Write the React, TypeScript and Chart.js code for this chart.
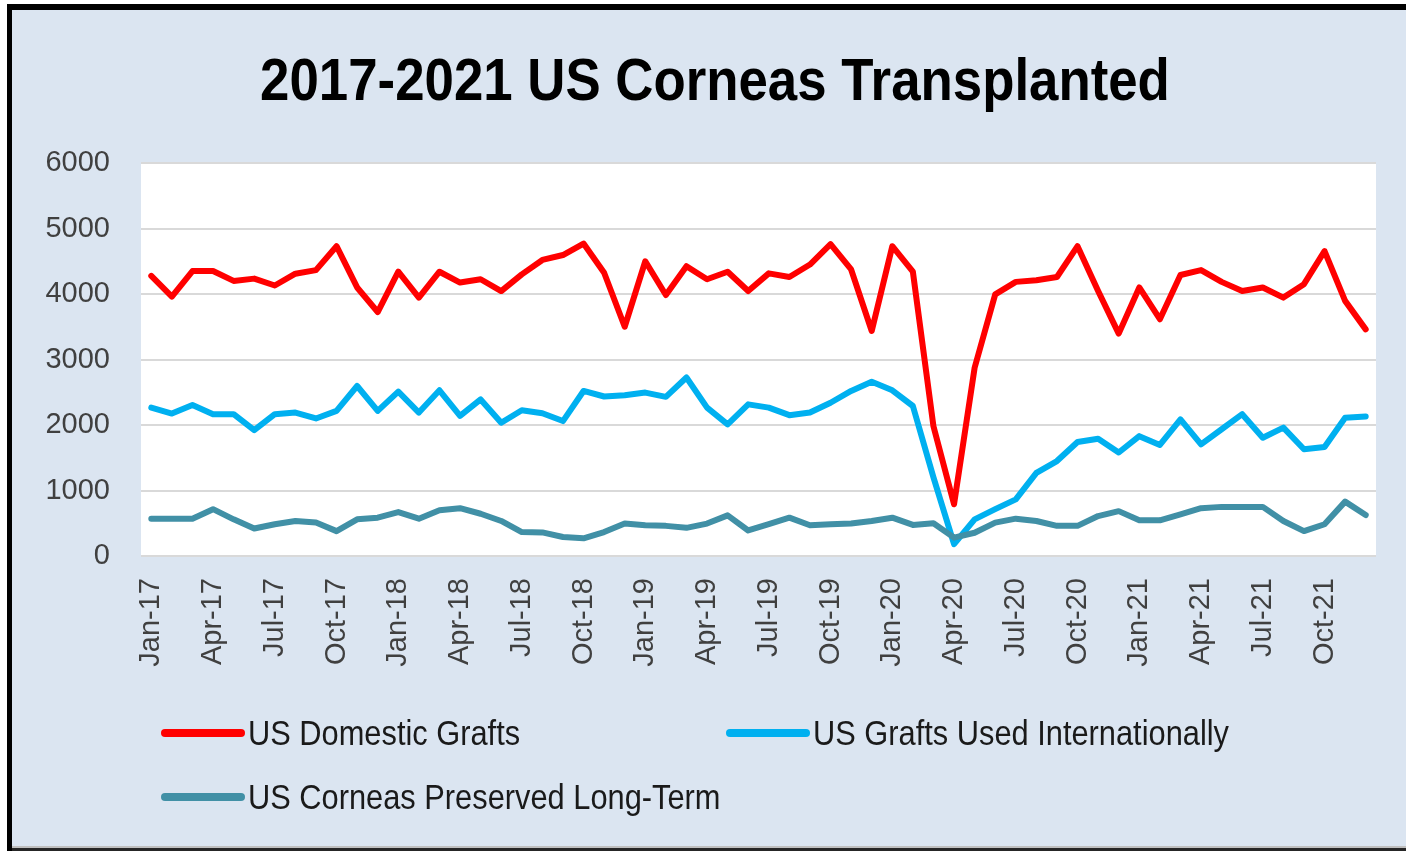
import React, { useEffect, useRef } from "react";
import { Chart, registerables } from "chart.js";

Chart.register(...registerables);

const months = ["Jan", "Feb", "Mar", "Apr", "May", "Jun", "Jul", "Aug", "Sep", "Oct", "Nov", "Dec"];
const years = ["17", "18", "19", "20", "21"];
const categories = years.flatMap((y) => months.map((m) => `${m}-${y}`));

const domesticGrafts = [
  4275, 3960, 4350, 4350, 4200, 4235, 4130, 4310, 4365, 4730, 4100, 3725,
  4340, 3945, 4340, 4175, 4225, 4045, 4300, 4520, 4595, 4770, 4325, 3500,
  4500, 3985, 4425, 4225, 4340, 4045, 4315, 4260, 4450, 4760, 4375, 3435,
  4730, 4340, 1980, 790, 2875, 3995, 4185, 4210, 4260, 4730, 4045, 3395,
  4100, 3615, 4290, 4365, 4185, 4045, 4100, 3945, 4150, 4655, 3895, 3460,
];
const internationalGrafts = [
  2265, 2175, 2305, 2165, 2165, 1920, 2165, 2190, 2100, 2215, 2595, 2215,
  2510, 2190, 2530, 2140, 2390, 2035, 2225, 2180, 2060, 2520, 2435, 2455,
  2495, 2430, 2725, 2265, 2010, 2315, 2265, 2150, 2190, 2340, 2520, 2660,
  2530, 2290, 1200, 180, 560, 715, 865, 1270, 1450, 1740, 1790, 1580,
  1830, 1695, 2085, 1705, 1935, 2165, 1805, 1960, 1630, 1665, 2110, 2130,
];
const preservedLongTerm = [
  570, 570, 570, 715, 560, 420, 485, 535, 510, 380, 560, 585,
  670, 570, 700, 730, 645, 535, 365, 360, 290, 270, 365, 495,
  470, 460, 430, 495, 620, 390, 485, 585, 470, 485, 495, 535,
  585, 475, 500, 280, 355, 510, 570, 535, 460, 460, 610, 685,
  545, 545, 635, 730, 750, 750, 750, 535, 380, 485, 830, 625,
];

const seriesNames = ["US Domestic Grafts", "US Grafts Used Internationally", "US Corneas Preserved Long-Term"];
const seriesColors = ["#FF0000", "#00B0F0", "#4190A6"];
const titleText = "2017-2021 US Corneas Transplanted";
const yMin = 0;
const yMax = 6000;
const yStep = 1000;

const W = 1406;
const H = 851;
const SANS = '"Liberation Sans", Arial, sans-serif';

const framePlugin = {
  id: "frame",
  beforeDraw(chart: any) {
    const { ctx, chartArea: a } = chart;
    ctx.save();
    ctx.fillStyle = "#ffffff";
    ctx.fillRect(0, 0, W, H);
    ctx.fillStyle = "#DBE5F1";
    ctx.fillRect(12, 10, W - 12, 838);
    ctx.fillStyle = "#000000";
    ctx.fillRect(7, 4, W - 7, 6);
    ctx.fillRect(7, 4, 5, H - 4);
    ctx.fillStyle = "#bfbfbf";
    ctx.fillRect(12, 846, W - 12, 2);
    ctx.fillStyle = "#262626";
    ctx.fillRect(12, 848, W - 12, 3);
    ctx.fillStyle = "#ffffff";
    ctx.fillRect(a.left, a.top, a.right - a.left, a.bottom - a.top);
    ctx.restore();
  },
};

const legendItems = [
  { idx: 0, left: 161, top: 733 },
  { idx: 1, left: 726, top: 733 },
  { idx: 2, left: 161, top: 797 },
];

export default function App() {
  const ref = useRef<HTMLCanvasElement | null>(null);

  useEffect(() => {
    if (!ref.current) return;
    const seriesData = [domesticGrafts, internationalGrafts, preservedLongTerm];
    const chart = new Chart(ref.current, {
      type: "line",
      data: {
        labels: categories,
        datasets: seriesData.map((d, i) => ({
          label: seriesNames[i],
          data: d,
          borderColor: seriesColors[i],
          backgroundColor: seriesColors[i],
          borderWidth: 6,
          pointRadius: 0,
          pointHoverRadius: 0,
          tension: 0,
          fill: false,
          borderJoinStyle: "round" as const,
          borderCapStyle: "round" as const,
          order: 3 - i,
        })),
      },
      options: {
        responsive: false,
        animation: false,
        layout: { padding: { left: 0, right: 30, top: 163, bottom: 0 } },
        plugins: {
          legend: { display: false },
          tooltip: { enabled: false },
          title: { display: false },
        },
        scales: {
          x: {
            type: "category",
            offset: true,
            grid: { display: false, drawTicks: false },
            border: { display: false },
            ticks: {
              autoSkip: false,
              maxRotation: 90,
              minRotation: 90,
              padding: 22,
              color: "#404040",
              font: { family: SANS, size: 29 },
              callback: (_v: any, i: number) => (i % 3 === 0 ? categories[i] : ""),
            },
            afterFit: (s: any) => {
              s.height = 295;
              s.paddingLeft = 0;
              s.paddingRight = 0;
            },
          },
          y: {
            min: yMin,
            max: yMax,
            ticks: {
              stepSize: yStep,
              padding: 31,
              color: "#404040",
              font: { family: SANS, size: 29 },
              callback: (v: any) => String(v),
            },
            grid: { color: "#D9D9D9", lineWidth: 2, drawTicks: false },
            border: { display: false },
            afterFit: (s: any) => {
              s.width = 141;
              s.paddingTop = 0;
              s.paddingBottom = 0;
            },
          },
        },
      },
      plugins: [framePlugin],
    });
    return () => chart.destroy();
  }, []);

  return (
    <div style={{ position: "absolute", left: 0, top: 0, width: W, height: H, overflow: "hidden" }}>
      <canvas ref={ref} width={W} height={H} style={{ width: W, height: H, display: "block" }} />
      <div
        style={{
          position: "absolute",
          left: 715,
          top: 50,
          whiteSpace: "nowrap",
          font: `bold 60px ${SANS}`,
          lineHeight: "60px",
          color: "#000000",
          transform: "translateX(-50%) scaleX(0.88)",
          transformOrigin: "center",
        }}
      >
        {titleText}
      </div>
      {legendItems.map((it) => (
        <div
          key={it.idx}
          style={{
            position: "absolute",
            left: it.left,
            top: it.top - 25,
            height: 50,
            display: "flex",
            alignItems: "center",
            whiteSpace: "nowrap",
          }}
        >
          <span
            style={{
              display: "inline-block",
              width: 84,
              height: 8,
              borderRadius: 4,
              background: seriesColors[it.idx],
            }}
          />
          <span
            style={{
              display: "inline-block",
              marginLeft: 3,
              font: `35px ${SANS}`,
              color: "#1a1a1a",
              transform: "scaleX(0.88)",
              transformOrigin: "left center",
            }}
          >
            {seriesNames[it.idx]}
          </span>
        </div>
      ))}
    </div>
  );
}
